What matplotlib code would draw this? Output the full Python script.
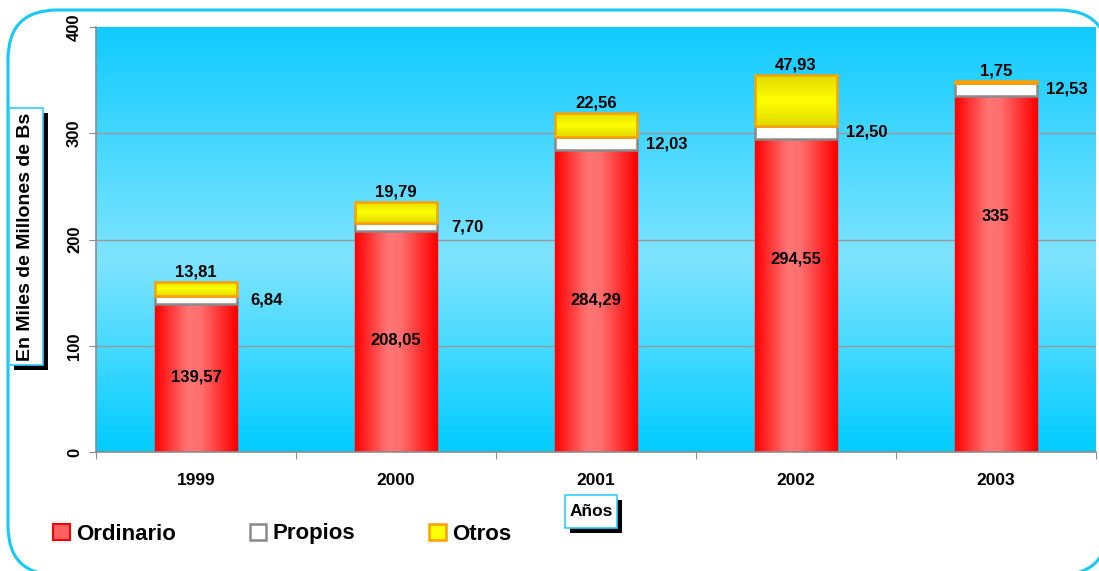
import numpy as np
import matplotlib
matplotlib.use("Agg")
import matplotlib.pyplot as plt
from matplotlib.patches import FancyBboxPatch, Rectangle, Patch
from matplotlib.colors import LinearSegmentedColormap

plt.rcParams['font.family'] = ['Liberation Sans', 'DejaVu Sans']
plt.rcParams['font.weight'] = 'bold'

# data
years = ["1999", "2000", "2001", "2002", "2003"]
ordinario = [139.57, 208.05, 284.29, 294.55, 335]
propios = [6.84, 7.70, 12.03, 12.50, 12.53]
otros = [13.81, 19.79, 22.56, 47.93, 1.75]
ordinario_lbl = ["139,57", "208,05", "284,29", "294,55", "335"]
propios_lbl = ["6,84", "7,70", "12,03", "12,50", "12,53"]
otros_lbl = ["13,81", "19,79", "22,56", "47,93", "1,75"]
# where the Ordinario labels sit inside their bars (last two were moved up)
ord_label_y = [70.6, 105.4, 143.1, 181.6, 222.1]

W, H = 1099, 571
fig = plt.figure(figsize=(W / 100, H / 100), dpi=100)

# outer rounded frame
frame = FancyBboxPatch((8 / W, 1 - 575 / H), 1100 / W, 565 / H,
                       boxstyle="round,pad=0,rounding_size=0.045",
                       transform=fig.transFigure, facecolor='white',
                       edgecolor='#19C8F5', linewidth=2.2, zorder=-5,
                       mutation_aspect=W / H)
fig.patches.append(frame)

ax = fig.add_axes([96 / W, 1 - 452 / H, 1000 / W, 425 / H])
ax.set_zorder(1)
x = np.arange(len(years))
ax.set_xlim(-0.5, len(years) - 0.5)
ax.set_ylim(0, 400)

# background gradient
bg = LinearSegmentedColormap.from_list(
    "bg", [(0.0, "#00CCFF"), (0.45, "#7FE4FF"), (1.0, "#10CBFF")])
grad = np.linspace(0, 1, 256).reshape(-1, 1)
ax.imshow(grad, cmap=bg, aspect='auto', extent=(-0.5, len(years) - 0.5, 400, 0),
          zorder=0, interpolation='bicubic')

for yv in [100, 200, 300]:
    ax.axhline(yv, color='#9A9A9A', lw=1, zorder=1)

bw = 0.41
red_cmap = LinearSegmentedColormap.from_list(
    "red", [(0.0, "#FF0000"), (0.4, "#FF7575"), (0.55, "#FF7070"), (1.0, "#FF0000")])
yel_cmap = LinearSegmentedColormap.from_list(
    "yel", [(0.0, "#E0DA00"), (0.5, "#FFFF00"), (1.0, "#E0DA00")])

b1 = ax.bar(x, ordinario, bw, color='#FF5050', edgecolor='#FF0000', lw=1, zorder=2)
b2 = ax.bar(x, propios, bw, bottom=ordinario, color='white', edgecolor='#8A8A8A',
            lw=1.8, zorder=3)
bot3 = [a + b for a, b in zip(ordinario, propios)]
b3 = ax.bar(x, otros, bw, bottom=bot3, color='#FFFF00', edgecolor='#FFA000',
            lw=1.8, zorder=4)

hgrad = np.linspace(0, 1, 256).reshape(1, -1)
for bar in b1:
    x0, y0 = bar.get_x(), bar.get_y()
    im = ax.imshow(hgrad, cmap=red_cmap, aspect='auto', zorder=2.5,
                   extent=(x0, x0 + bar.get_width(), y0, y0 + bar.get_height()))
    im.set_clip_path(bar)
for bar in b3:
    x0, y0 = bar.get_x(), bar.get_y()
    im = ax.imshow(grad, cmap=yel_cmap, aspect='auto', zorder=4.5,
                   extent=(x0, x0 + bar.get_width(), y0, y0 + bar.get_height()))
    im.set_clip_path(bar)
    bar.set_zorder(4.6)
    bar.set_facecolor('none')

ax.set_xlim(-0.5, len(years) - 0.5)
ax.set_ylim(0, 400)

# value labels
for i in range(len(years)):
    ax.text(x[i], ord_label_y[i], ordinario_lbl[i], ha='center', va='center',
            fontsize=12, fontweight='bold', zorder=6)
    ax.text(x[i] + 0.355, ordinario[i] + propios[i] / 2, propios_lbl[i],
            ha='center', va='center', fontsize=12, fontweight='bold', zorder=6)
    ax.annotate(otros_lbl[i], (x[i], bot3[i] + otros[i]), xytext=(0, 10),
                textcoords='offset pixels', ha='center', va='center',
                fontsize=12, fontweight='bold', zorder=6)

# axes styling
for s in ['top', 'right']:
    ax.spines[s].set_visible(False)
for s in ['left', 'bottom']:
    ax.spines[s].set_color('#8C8C8C')
    ax.spines[s].set_linewidth(1.2)

ax.set_yticks([0, 100, 200, 300, 400])
ax.set_yticklabels(["0", "100", "200", "300", "400"], rotation=90, va='center',
                   fontsize=12, fontweight='bold')
ax.tick_params(axis='y', length=5, color='#8C8C8C', pad=5)
ax.set_xticks(np.arange(-0.5, len(years), 1.0))
ax.set_xticklabels([])
ax.tick_params(axis='x', which='major', length=5, color='#8C8C8C')
ax.set_xticks(x, minor=True)
ax.set_xticklabels(years, minor=True, fontsize=12.5, fontweight='bold')
ax.tick_params(axis='x', which='minor', length=0, pad=15)

# boxed axis titles with shadow
def boxed_label(x0, y0, w, h, text, rot, fs):
    sh = Rectangle(((x0 + 5) / W, 1 - (y0 + h + 5) / H), w / W, h / H,
                   transform=fig.transFigure, facecolor='black', edgecolor='none', zorder=5)
    bx = Rectangle((x0 / W, 1 - (y0 + h) / H), w / W, h / H,
                   transform=fig.transFigure, facecolor='white', edgecolor='#33CCFF',
                   lw=1.2, zorder=6)
    fig.patches.extend([sh, bx])
    fig.text((x0 + w / 2) / W, 1 - (y0 + h / 2) / H, text, rotation=rot,
             ha='center', va='center', fontsize=fs, fontweight='bold', zorder=7)

boxed_label(9, 108, 34, 257, "En Miles de Millones de Bs", 90, 14)
boxed_label(565, 495, 52, 33, "Años", 0, 12.5)

# legend
handles = [Patch(facecolor='#FF6060', edgecolor='#FF0000', lw=1.5),
           Patch(facecolor='white', edgecolor='#8A8A8A', lw=1.8),
           Patch(facecolor='#FFFF00', edgecolor='#FFA000', lw=1.8)]
fig.legend(handles, ["Ordinario", "Propios", "Otros"], ncol=3,
           loc='center left', bbox_to_anchor=(33 / W, 1 - 534 / H),
           frameon=False, prop={'size': 16, 'weight': 'bold'},
           handlelength=0.75, handleheight=0.75, handletextpad=0.3,
           columnspacing=3.3)

fig.savefig("out.png", dpi=100)
